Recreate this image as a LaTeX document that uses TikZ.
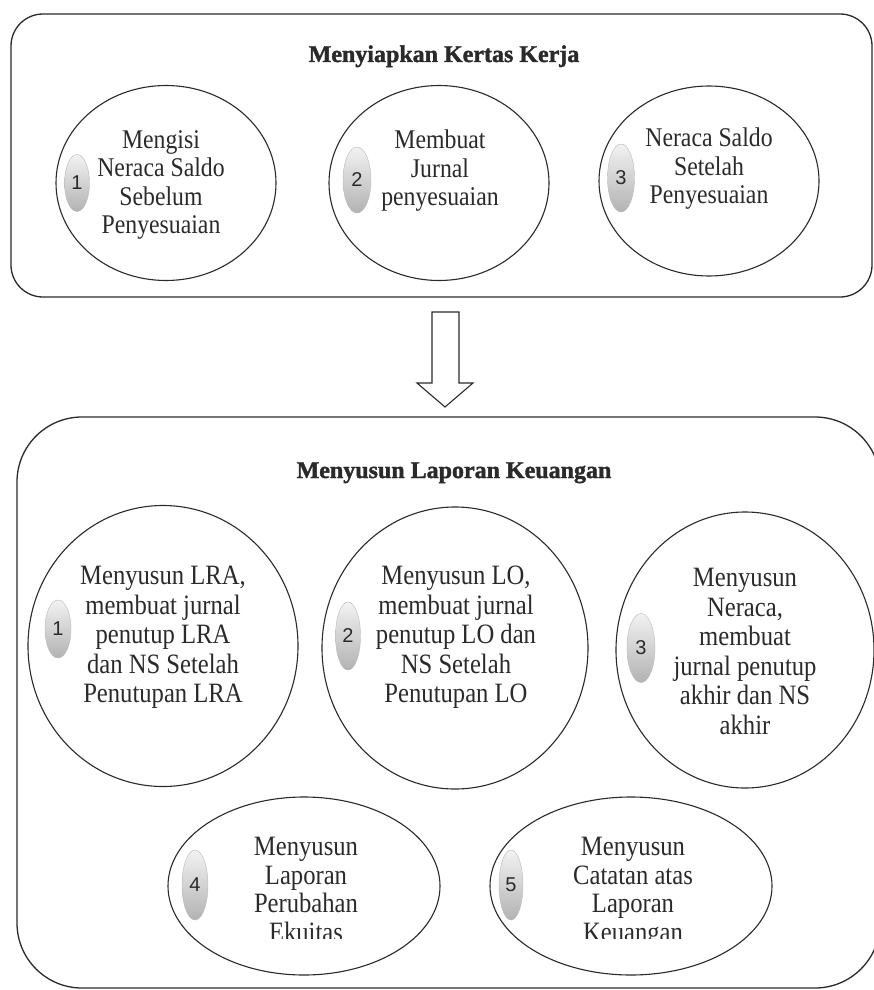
\documentclass[tikz,border=0pt]{standalone}
\usepackage{fontspec}
\setmainfont[FakeStretch=0.88]{Liberation Serif}
\newfontfamily\titlefont[FakeBold=1.5]{Liberation Serif Bold}
\newfontfamily\badgefont{Liberation Sans}
\usetikzlibrary{shapes.geometric}
\definecolor{ink}{HTML}{2A2A2A}
\tikzset{
  panel/.style={draw=ink, line width=1.3pt, inner sep=0pt},
  bubble/.style={ellipse, draw=ink, line width=1.1pt, inner sep=0pt},
  txtbase/.style={inner sep=0pt, align=center, text=ink, anchor=north},
  smalltxt/.style={txtbase, font=\fontsize{27}{28.5}\selectfont},
  bigtxt/.style={txtbase, font=\fontsize{28}{29.5}\selectfont},
  rowtxt/.style={txtbase, font=\fontsize{28}{28.5}\selectfont},
  heading/.style={inner sep=0pt, text=ink, anchor=base, font=\titlefont\fontsize{24}{28}\selectfont},
  badge/.style={ellipse, inner sep=0pt, draw=gray!55, line width=0.4pt,
    top color=gray!10, bottom color=gray!60, text=ink,
    font=\badgefont\fontsize{20}{21}\selectfont},
}
\begin{document}
\begin{tikzpicture}[x=1pt, y=-1pt]
\useasboundingbox (0,0) rectangle (874,990);
\fill[white] (0,0) rectangle (874,990);

% panels
\node[panel, rounded corners=32pt, minimum width=861pt, minimum height=283pt] (top) at (441.5,155.5) {};
\node[panel, rounded corners=65pt, minimum width=863pt, minimum height=571pt] (bottom) at (448.5,702.5) {};

\node[heading] (toptitle) at (444,62) {Menyiapkan Kertas Kerja};
\node[heading] (bottitle) at (454,478) {Menyusun Laporan Keuangan};

% block arrow
\draw[ink, line width=1.1pt, line join=miter] (432,312) -- (459,312) -- (459,383) -- (473,383) -- (445,407) -- (417,383) -- (432,383) -- cycle;

% top bubbles
\node[bubble, minimum width=220pt, minimum height=195pt] (t1) at (166,183) {};
\node[bubble, minimum width=220pt, minimum height=195pt] (t2) at (439,183) {};
\node[bubble, minimum width=220pt, minimum height=190pt] (t3) at (709,181) {};

\node[smalltxt] (t1txt) at (161,130) {Mengisi\\Neraca Saldo\\Sebelum\\Penyesuaian};
\node[smalltxt] (t2txt) at (440,130) {Membuat\\Jurnal\\penyesuaian};
\node[smalltxt] (t3txt) at (709,128) {Neraca Saldo\\Setelah\\Penyesuaian};

\node[badge, minimum width=25pt, minimum height=57pt] (t1b) at (77,183) {1};
\node[badge, minimum width=28pt, minimum height=66pt] (t2b) at (357,180) {2};
\node[badge, minimum width=27pt, minimum height=68pt] (t3b) at (621,178) {3};

% bottom bubbles
\node[bubble, minimum width=270pt, minimum height=281pt] (b1) at (163,646) {};
\node[bubble, minimum width=266pt, minimum height=282pt] (b2) at (455,648) {};
\node[bubble, minimum width=258pt, minimum height=276pt] (b3) at (745,650) {};
\node[bubble, minimum width=272pt, minimum height=178pt] (b4) at (304,886) {};
\node[bubble, minimum width=282pt, minimum height=178pt] (b5) at (631,886) {};

\node[bigtxt] (b1txt) at (163,566) {Menyusun LRA,\\membuat jurnal\\penutup LRA\\dan NS Setelah\\Penutupan LRA};
\node[bigtxt] (b2txt) at (456,566) {Menyusun LO,\\membuat jurnal\\penutup LO dan\\NS Setelah\\Penutupan LO};
\node[bigtxt] (b3txt) at (745,568) {Menyusun\\Neraca,\\membuat\\jurnal penutup\\akhir dan NS\\akhir};

\begin{scope}
  \clip (0,0) rectangle (874,938);
  \node[rowtxt] (b4txt) at (306,837) {Menyusun\\Laporan\\Perubahan\\Ekuitas};
  \node[rowtxt] (b5txt) at (633,837) {Menyusun\\Catatan atas\\Laporan\\Keuangan};
\end{scope}

\node[badge, minimum width=26pt, minimum height=58pt] (b1b) at (58,629) {1};
\node[badge, minimum width=25pt, minimum height=68pt] (b2b) at (348,636) {2};
\node[badge, minimum width=28pt, minimum height=69pt] (b3b) at (641,648) {3};
\node[badge, minimum width=26pt, minimum height=70pt] (b4b) at (195,885) {4};
\node[badge, minimum width=24pt, minimum height=70pt] (b5b) at (511,885) {5};
\end{tikzpicture}
\end{document}
